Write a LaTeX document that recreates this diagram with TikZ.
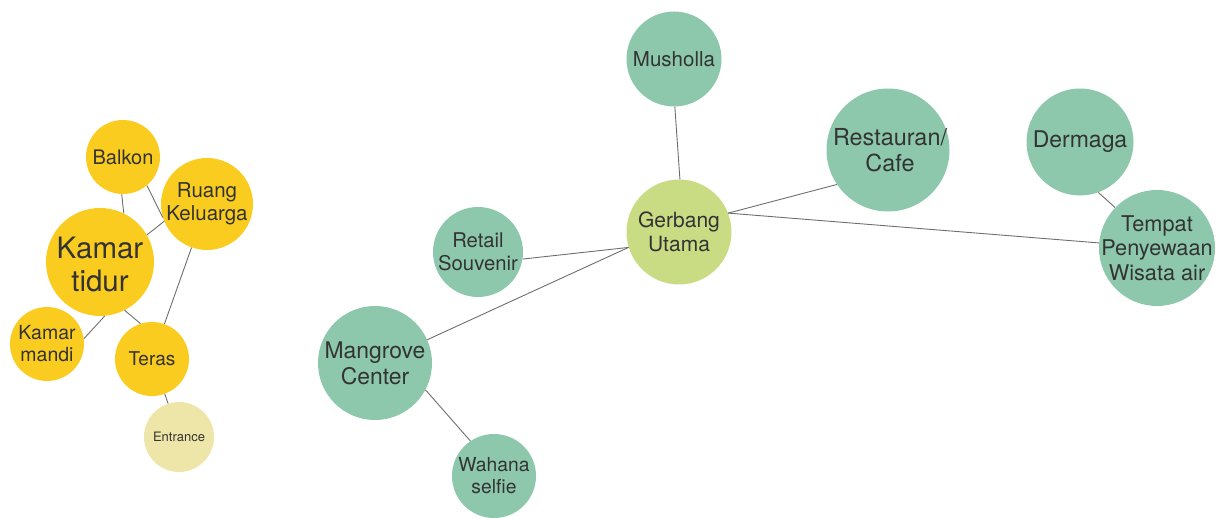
\documentclass[tikz,border=0pt]{standalone}
\usepackage{fontspec}
\setmainfont{TeX Gyre Heros}
\definecolor{yel}{HTML}{FACC1F}
\definecolor{pale}{HTML}{EDE6A8}
\definecolor{grn}{HTML}{8DC8AD}
\definecolor{lime}{HTML}{C9DC84}
\definecolor{txt}{HTML}{333333}
\definecolor{edge}{HTML}{6E6E6E}
\tikzset{
  bub/.style={circle, inner sep=0pt},
  lbl/.style={inner sep=0pt, align=center, text=txt},
  fs/.style n args={2}{font=\fontsize{#1}{#2}\selectfont},
  link/.style={draw=edge, line width=0.9pt},
}
\begin{document}
\begin{tikzpicture}[x=1pt,y=-1pt]
\useasboundingbox (0,0) rectangle (1224,518);
% left cluster
\node[bub, fill=yel, minimum size=74pt] (balkon) at (123,157) {};
\node[lbl, fs={20}{22.5}] (balkon-t) at (balkon) {Balkon};
\node[bub, fill=yel, minimum size=92pt] (ruang) at (207,204) {};
\node[lbl, fs={20.5}{23}] (ruang-t) at (ruang) {Ruang\\Keluarga};
\node[bub, fill=yel, minimum size=108pt] (tidur) at (100,262) {};
\node[lbl, fs={29.5}{33}] (tidur-t) at (100,264) {Kamar\\tidur};
\node[bub, fill=yel, minimum size=74pt] (mandi) at (47,344) {};
\node[lbl, fs={19.5}{22}] (mandi-t) at (mandi) {Kamar\\mandi};
\node[bub, fill=yel, minimum size=74pt] (teras) at (152,359) {};
\node[lbl, fs={19}{21.5}] (teras-t) at (teras) {Teras};
\node[bub, fill=pale, minimum size=70pt] (entr) at (179,437) {};
\node[lbl, fs={13}{15}] (entr-t) at (entr) {Entrance};
\draw[link] (balkon.268) -- (tidur.64);
\draw[link] (balkon.310) -- (ruang.197.6);
\draw[link] (ruang.202) -- (tidur.30);
\draw[link] (ruang) -- (teras);
\draw[link] (tidur.275) -- (mandi.8);
\draw[link] (tidur.297.5) -- (teras.108.4);
\draw[link] (teras.290) -- (entr.108.4);
% right cluster
\node[bub, fill=grn, minimum size=95pt] (mush) at (674,59) {};
\node[lbl, fs={20.5}{23}] (mush-t) at (mush) {Musholla};
\node[bub, fill=lime, minimum size=105pt] (gerb) at (679,232) {};
\node[lbl, fs={21}{24}] (gerb-t) at (gerb) {Gerbang\\Utama};
\node[bub, fill=grn, minimum size=90pt] (retail) at (478,252) {};
\node[lbl, fs={20.3}{23}] (retail-t) at (retail) {Retail\\Souvenir};
\node[bub, fill=grn, minimum size=123pt] (resto) at (888,150) {};
\node[lbl, fs={23.4}{26.5}] (resto-t) at (890,150) {Restauran/\\Cafe};
\node[bub, fill=grn, minimum size=107pt] (derm) at (1080,142) {};
\node[lbl, fs={23}{26}] (derm-t) at (derm) {Dermaga};
\node[bub, fill=grn, minimum size=116pt] (tempat) at (1157,248) {};
\node[lbl, fs={21.7}{24.5}] (tempat-t) at (tempat) {Tempat\\Penyewaan\\Wisata air};
\node[bub, fill=grn, minimum size=114pt] (mangr) at (375,363) {};
\node[lbl, fs={22.9}{26}] (mangr-t) at (mangr) {Mangrove\\Center};
\node[bub, fill=grn, minimum size=84pt] (wahana) at (494,476) {};
\node[lbl, fs={19.3}{22}] (wahana-t) at (wahana) {Wahana\\selfie};
\draw[link] (mush.271) -- (gerb.89);
\draw[link] (retail.351) -- (gerb.197);
\draw[link] (mangr.24.4) -- (gerb.197);
\draw[link] (gerb.21.4) -- (resto.214.6);
\draw[link] (gerb.21.4) -- (tempat.175);
\draw[link] (derm.290) -- (tempat.136);
\draw[link] (mangr.332) -- (wahana.124);
\end{tikzpicture}
\end{document}
